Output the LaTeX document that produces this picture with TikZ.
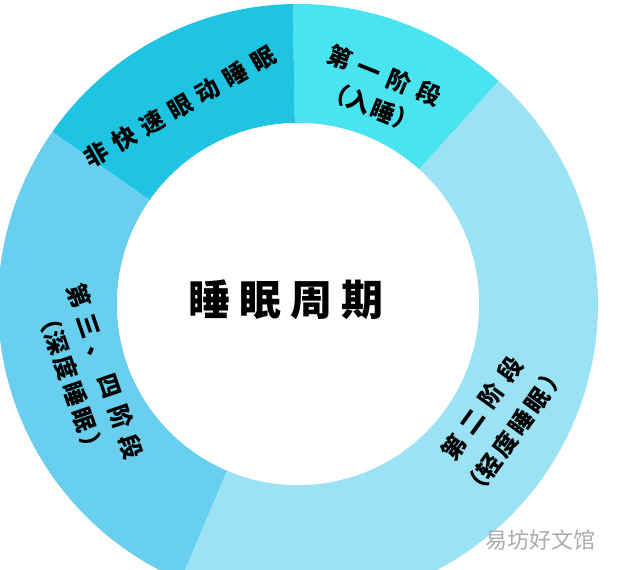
\documentclass[tikz,border=0pt]{standalone}
\usepackage{fontspec}
\usetikzlibrary{calc}
\newfontfamily\cjk{Noto Sans CJK SC}
\definecolor{nremC}{HTML}{1EC4E2}
\definecolor{stageOneC}{HTML}{4AE4F0}
\definecolor{stageTwoC}{HTML}{9BE2F4}
\definecolor{stageDeepC}{HTML}{69CFEE}
\newcommand\ringseg[3]{\fill[#3] ($(C)+(#1:300)$) arc[start angle=#1,end angle=#2,radius=300] -- ($(C)+(#2:181)$) arc[start angle=#2,end angle=#1,radius=181] -- cycle;}
\newcommand\sgap{\hspace{6pt}}
\newcommand\sgapB{\hspace{1pt}}
\newcommand\sgapC{\hspace{2.5pt}}
\newcommand\tgap{\hspace{7pt}}
\tikzset{
  seglabel/.style={text=black, align=center, inner sep=0pt},
}
\begin{document}
\begin{tikzpicture}[x=0.75pt,y=0.75pt]
\useasboundingbox (0,0) rectangle (640,570);
\clip (0,0) rectangle (640,570);
\fill[white] (0,0) rectangle (640,570);
\coordinate (C) at (298,266);
\ringseg{48}{91}{stageOneC}
\ringseg{91}{145}{nremC}
\ringseg{145}{247}{stageDeepC}
\ringseg{247}{408}{stageTwoC}
\fill[white] (C) circle[radius=181];

\node[seglabel, font={\cjk\bfseries\fontsize{31.5}{36}\selectfont}] (title) at (286,270) {睡\tgap 眠\tgap 周\tgap 期};

\node[seglabel, rotate=30, font={\cjk\bfseries\fontsize{18}{22}\selectfont}] (nrem) at (180,463) {非\sgap 快\sgap 速\sgap 眼\sgap 动\sgap 睡\sgap 眠};

\node[seglabel, rotate=-22, font={\cjk\bfseries\fontsize{18}{25.5}\selectfont}] (s1) at (378,479) {第\sgap 一\sgap 阶\sgap 段\\（入\sgapB 睡\sgapB ）};

\node[seglabel, rotate=54, font={\cjk\bfseries\fontsize{18}{30}\selectfont}] (s2) at (498,150) {第\sgap 二\sgap 阶\sgap 段\\（轻\sgapC 度\sgapC 睡\sgapC 眠\sgapC ）};

\node[seglabel, rotate=-71, font={\cjk\bfseries\fontsize{18}{27}\selectfont}] (s34) at (88,193) {第\sgap 三\sgap 、\sgap 四\sgap 阶\sgap 段\\（深\sgapC 度\sgapC 睡\sgapC 眠\sgapC ）};

\node[inner sep=0pt, text=gray!65, font={\cjk\fontsize{16.5}{20}\selectfont}] (wm) at (540,30) {易坊好文馆};
\end{tikzpicture}
\end{document}
